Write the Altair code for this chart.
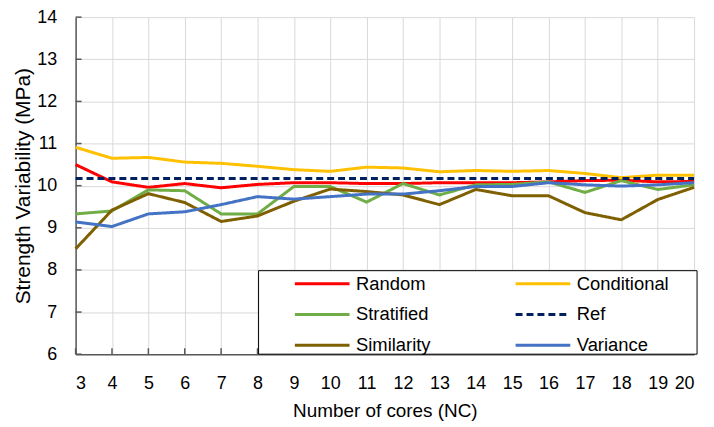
import altair as alt
import pandas as pd

nc = list(range(3, 21))
random_ = [10.50, 10.09, 9.96, 10.05, 9.95, 10.03, 10.07, 10.07, 10.05, 10.05, 10.07, 10.07, 10.07, 10.09, 10.12, 10.13, 10.09, 10.10]
conditional = [10.91, 10.65, 10.67, 10.56, 10.53, 10.46, 10.38, 10.34, 10.44, 10.42, 10.33, 10.36, 10.34, 10.36, 10.29, 10.19, 10.25, 10.25]
stratified = [9.33, 9.40, 9.90, 9.88, 9.33, 9.33, 9.98, 9.98, 9.61, 10.05, 9.78, 10.02, 10.03, 10.09, 9.84, 10.12, 9.91, 10.02]
ref = [10.17, 10.17, 10.17, 10.17, 10.17, 10.17, 10.17, 10.17, 10.17, 10.17, 10.17, 10.17, 10.17, 10.17, 10.17, 10.17, 10.17, 10.17]
similarity = [8.50, 9.42, 9.81, 9.60, 9.15, 9.28, 9.63, 9.92, 9.86, 9.78, 9.55, 9.91, 9.76, 9.76, 9.36, 9.19, 9.67, 9.96]
variance = [9.14, 9.03, 9.33, 9.38, 9.55, 9.74, 9.68, 9.74, 9.80, 9.80, 9.88, 9.98, 9.98, 10.07, 10.02, 9.99, 10.02, 10.07]

series_names = ["Random", "Stratified", "Similarity", "Conditional", "Ref", "Variance"]
series_values = [random_, stratified, similarity, conditional, ref, variance]
series_colors = ["#FF0000", "#70AD47", "#7F6000", "#FFC000", "#002060", "#4472C4"]
series_dash = [[1, 0], [1, 0], [1, 0], [1, 0], [7, 4], [1, 0]]
x_ticks = list(range(3, 21))
y_ticks = list(range(6, 15))

rows = []
for name, vals in zip(series_names, series_values):
    for x, v in zip(nc, vals):
        rows.append({"NC": x, "value": v, "series": name})
df = pd.DataFrame(rows)

FONT = "Liberation Sans"
AXIS_GRAY = "#595959"

x_enc = alt.X("NC:Q",
              scale=alt.Scale(domain=[3, 20], nice=False, zero=False),
              axis=alt.Axis(values=x_ticks, title="Number of cores (NC)",
                            labelPadding=20, titlePadding=10))
y_enc = alt.Y("value:Q",
              scale=alt.Scale(domain=[6, 14], nice=False, zero=False),
              axis=alt.Axis(values=y_ticks, title="Strength Variability (MPa)",
                            labelPadding=19, titlePadding=3))

# inward tick marks
yticks_layer = alt.Chart(pd.DataFrame({"value": y_ticks})).mark_rule(
    color=AXIS_GRAY, strokeWidth=1.5
).encode(y=y_enc, x=alt.value(0), x2=alt.value(6))

xticks_layer = alt.Chart(pd.DataFrame({"NC": x_ticks})).mark_rule(
    color=AXIS_GRAY, strokeWidth=1.5
).encode(x=x_enc, y=alt.value(339), y2=alt.value(333))

box = alt.Chart(pd.DataFrame({"a": [0]})).mark_rect(
    fill="white", stroke="#000000", strokeWidth=1
).encode(
    x=alt.value(184), x2=alt.value(625), y=alt.value(255), y2=alt.value(339)
)

leg = alt.Legend(title=None, orient="none", columns=2, legendX=219, legendY=260)

lines = alt.Chart(df).mark_line(strokeWidth=3).encode(
    x=x_enc,
    y=y_enc,
    color=alt.Color("series:N",
                    scale=alt.Scale(domain=series_names, range=series_colors),
                    legend=leg),
    strokeDash=alt.StrokeDash("series:N",
                              scale=alt.Scale(domain=series_names, range=series_dash),
                              legend=leg),
)

chart = alt.layer(yticks_layer, xticks_layer, box, lines).properties(
    width=622, height=339,
    autosize=alt.AutoSizeParams(type="none"),
    padding={"left": 68, "top": 8, "right": 12, "bottom": 67},
).configure_view(
    stroke=None
).configure_axis(
    labelFont=FONT, titleFont=FONT, labelFontSize=18, titleFontSize=19,
    labelColor="#000000", titleColor="#000000", titleFontWeight="normal",
    gridColor="#d9d9d9", gridWidth=1, domainColor=AXIS_GRAY, domainWidth=1.5,
    ticks=False, tickSize=0,
).configure_axisY(
    titleFontSize=21,
).configure_legend(
    labelFont=FONT, labelFontSize=18.5, labelColor="#000000",
    symbolType="stroke", symbolSize=3025, symbolStrokeWidth=3,
    clipHeight=16, rowPadding=12, columnPadding=83, labelOffset=5,
    padding=0, strokeColor=None,
)

chart.save("out.html", embed_options={"renderer": "svg", "actions": False})
